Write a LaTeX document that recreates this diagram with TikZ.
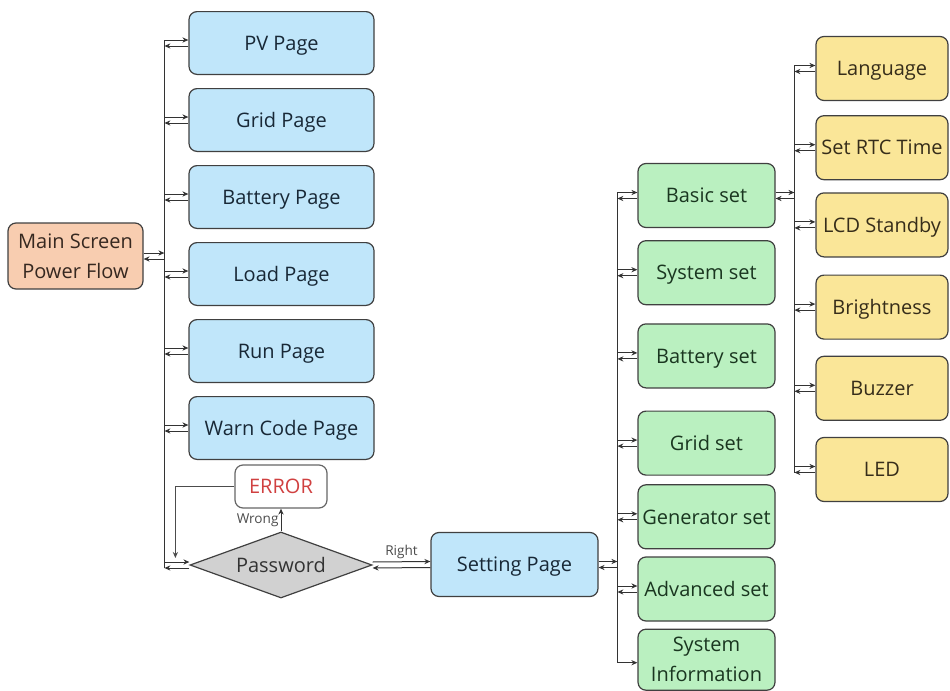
\documentclass[tikz,border=0pt]{standalone}
\usepackage{fontspec}
\setmainfont{Open Sans}
\usepackage{tikz}
\usetikzlibrary{arrows.meta, positioning, shapes.geometric, calc}
\usepackage{xcolor}
\definecolor{pagefill}{RGB}{192,230,250}
\definecolor{pagetext}{RGB}{24,40,54}
\definecolor{setfill}{RGB}{186,240,192}
\definecolor{settext}{RGB}{26,54,32}
\definecolor{subfill}{RGB}{250,230,152}
\definecolor{subtext}{RGB}{54,45,26}
\definecolor{mainfill}{RGB}{248,205,176}
\definecolor{maintext}{RGB}{54,40,32}
\definecolor{errred}{RGB}{208,64,64}

\begin{document}
\begin{tikzpicture}[
  node distance = 6.5pt and 12pt,
  box/.style  = {rectangle, rounded corners=4pt, draw=black!75, line width=0.6pt,
                 minimum height=32pt, inner sep=2pt, align=center,
                 font=\fontsize{10}{15}\selectfont},
  oneline/.style = {text height=7.2pt, text depth=0pt},
  page/.style = {box, oneline, fill=pagefill, text=pagetext, minimum width=92.5pt,
                 minimum height=31.4pt},
  setbox/.style = {box, oneline, fill=setfill, text=settext, minimum width=68.5pt},
  subbox/.style = {box, oneline, fill=subfill, text=subtext, minimum width=66pt},
  mainbox/.style = {box, fill=mainfill, text=maintext, minimum width=67.5pt,
                    minimum height=33pt},
  errbox/.style = {box, oneline, fill=white, draw=black!60, text=errred,
                   minimum width=46pt, minimum height=21.5pt},
  decision/.style = {diamond, aspect=2.75, draw=black!75, line width=0.6pt,
                     fill=black!18, text=black!80, inner sep=0pt, oneline,
                     minimum width=91pt, minimum height=33pt,
                     font=\fontsize{10}{12}\selectfont},
  arr/.style  = {-{Stealth[length=3pt,width=2.6pt]}, line width=0.5pt, draw=black!80},
  bus/.style  = {line width=0.5pt, draw=black!80},
  lbl/.style  = {font=\fontsize{6.8}{8}\selectfont, text=black!70, inner sep=1pt}
]
\useasboundingbox (0,0) rectangle (475pt,-345.5pt);

% main screen and pages
\node[mainbox] (main) at (37.75pt,-128pt) {Main Screen\\Power Flow};
\node[page] (pv) at (140.75pt,-21.5pt) {PV Page};
\node[page, below=of pv] (grid) {Grid Page};
\node[page, below=of grid] (batt) {Battery Page};
\node[page, below=of batt] (load) {Load Page};
\node[page, below=of load] (run) {Run Page};
\node[page, below=of run] (warn) {Warn Code Page};
\node[errbox] (err) at (140.5pt,-243.25pt) {ERROR};
\node[decision] (pw) at (140.5pt,-282.5pt) {Password};
\node[page, minimum width=83.5pt, minimum height=32pt] (setting)
  at (257.25pt,-282.25pt) {Setting Page};

% setting groups
\node[setbox] (basic) at (353.25pt,-97.75pt) {Basic set};
\node[setbox, below=6pt of basic] (sysset) {System set};
\node[setbox, below=9pt of sysset] (batset) {Battery set};
\node[setbox, below=11pt of batset] (gridset) {Grid set};
\node[setbox, below=4.25pt of gridset] (genset) {Generator set};
\node[setbox, below=3.5pt of genset] (advset) {Advanced set};
\node[setbox, below=3.5pt of advset, minimum height=30.5pt,
      text height={}, text depth={}] (sysinfo) {System\\Information};

% basic settings
\node[subbox] (lang) at (441pt,-34.25pt) {Language};
\node[subbox, below=7pt of lang] (rtc) {Set RTC Time};
\node[subbox, below=6pt of rtc] (lcd) {LCD Standby};
\node[subbox, below=8.5pt of lcd] (bright) {Brightness};
\node[subbox, below=8pt of bright] (buzz) {Buzzer};
\node[subbox, below=8pt of buzz] (led) {LED};

\coordinate (mbus) at ($(pv.west)+(-12pt,0)$);
\coordinate (gbus) at ($(basic.west)+(-10pt,0)$);
\coordinate (ybus) at ($(lang.west)+(-10.5pt,0)$);

% left bus
\draw[bus] ($(mbus|-pv)+(0,1.5pt)$) -- ($(mbus|-pw)-(0,1.5pt)$);
\draw[arr] ($(main.east)+(0,1.5pt)$) -- ($(mbus|-main)+(0,1.5pt)$);
\draw[arr] ($(mbus|-main)-(0,1.5pt)$) -- ($(main.east)-(0,1.5pt)$);
\draw[arr] ($(mbus|-pv)+(0,1.5pt)$) -- ($(pv.west)+(0,1.5pt)$);
\draw[arr] ($(pv.west)-(0,1.5pt)$) -- ($(mbus|-pv)-(0,1.5pt)$);
\draw[arr] ($(mbus|-grid)+(0,1.5pt)$) -- ($(grid.west)+(0,1.5pt)$);
\draw[arr] ($(grid.west)-(0,1.5pt)$) -- ($(mbus|-grid)-(0,1.5pt)$);
\draw[arr] ($(mbus|-batt)+(0,1.5pt)$) -- ($(batt.west)+(0,1.5pt)$);
\draw[arr] ($(batt.west)-(0,1.5pt)$) -- ($(mbus|-batt)-(0,1.5pt)$);
\draw[arr] ($(mbus|-load)+(0,1.5pt)$) -- ($(load.west)+(0,1.5pt)$);
\draw[arr] ($(load.west)-(0,1.5pt)$) -- ($(mbus|-load)-(0,1.5pt)$);
\draw[arr] ($(mbus|-run)+(0,1.5pt)$) -- ($(run.west)+(0,1.5pt)$);
\draw[arr] ($(run.west)-(0,1.5pt)$) -- ($(mbus|-run)-(0,1.5pt)$);
\draw[arr] ($(mbus|-warn)+(0,1.5pt)$) -- ($(warn.west)+(0,1.5pt)$);
\draw[arr] ($(warn.west)-(0,1.5pt)$) -- ($(mbus|-warn)-(0,1.5pt)$);
\draw[arr] ($(mbus|-pw)+(0,1.5pt)$) -- ($(pw.west)+(0,1.5pt)$);
\draw[arr] ($(pw.west)-(0,1.5pt)$) -- ($(mbus|-pw)-(0,1.5pt)$);

% password check
\coordinate (errend) at ($(mbus|-pw)+(5.5pt,3.5pt)$);
\draw[arr, draw=black!70] (err.west) -| (errend);
\draw[arr] (pw.north) -- node[lbl, left] {Wrong} (err.south);
\draw[arr] ($(pw.east)+(0,1.5pt)$) -- node[lbl, above] {Right} ($(setting.west)+(0,1.5pt)$);
\draw[arr] ($(setting.west)-(0,1.5pt)$) -- ($(pw.east)-(0,1.5pt)$);

% setting bus
\draw[bus] ($(gbus|-basic)+(0,1.5pt)$) -- ($(gbus|-sysinfo)-(0,1.5pt)$);
\draw[arr] ($(setting.east)+(0,1.5pt)$) -- ($(gbus|-setting)+(0,1.5pt)$);
\draw[arr] ($(gbus|-setting)-(0,1.5pt)$) -- ($(setting.east)-(0,1.5pt)$);
\draw[arr] ($(gbus|-basic)+(0,1.5pt)$) -- ($(basic.west)+(0,1.5pt)$);
\draw[arr] ($(basic.west)-(0,1.5pt)$) -- ($(gbus|-basic)-(0,1.5pt)$);
\draw[arr] ($(gbus|-sysset)+(0,1.5pt)$) -- ($(sysset.west)+(0,1.5pt)$);
\draw[arr] ($(sysset.west)-(0,1.5pt)$) -- ($(gbus|-sysset)-(0,1.5pt)$);
\draw[arr] ($(gbus|-batset)+(0,1.5pt)$) -- ($(batset.west)+(0,1.5pt)$);
\draw[arr] ($(batset.west)-(0,1.5pt)$) -- ($(gbus|-batset)-(0,1.5pt)$);
\draw[arr] ($(gbus|-gridset)+(0,1.5pt)$) -- ($(gridset.west)+(0,1.5pt)$);
\draw[arr] ($(gridset.west)-(0,1.5pt)$) -- ($(gbus|-gridset)-(0,1.5pt)$);
\draw[arr] ($(gbus|-genset)+(0,1.5pt)$) -- ($(genset.west)+(0,1.5pt)$);
\draw[arr] ($(genset.west)-(0,1.5pt)$) -- ($(gbus|-genset)-(0,1.5pt)$);
\draw[arr] ($(gbus|-advset)+(0,1.5pt)$) -- ($(advset.west)+(0,1.5pt)$);
\draw[arr] ($(advset.west)-(0,1.5pt)$) -- ($(gbus|-advset)-(0,1.5pt)$);
\draw[arr] ($(gbus|-sysinfo)-(0,1.5pt)$) -- ($(sysinfo.west)-(0,1.5pt)$);

% basic set bus
\draw[bus] ($(ybus|-lang)+(0,1.5pt)$) -- ($(ybus|-led)-(0,1.5pt)$);
\draw[arr] ($(basic.east)+(0,1.5pt)$) -- ($(ybus|-basic)+(0,1.5pt)$);
\draw[arr] ($(ybus|-basic)-(0,1.5pt)$) -- ($(basic.east)-(0,1.5pt)$);
\draw[arr] ($(ybus|-lang)+(0,1.5pt)$) -- ($(lang.west)+(0,1.5pt)$);
\draw[arr] ($(lang.west)-(0,1.5pt)$) -- ($(ybus|-lang)-(0,1.5pt)$);
\draw[arr] ($(ybus|-rtc)+(0,1.5pt)$) -- ($(rtc.west)+(0,1.5pt)$);
\draw[arr] ($(rtc.west)-(0,1.5pt)$) -- ($(ybus|-rtc)-(0,1.5pt)$);
\draw[arr] ($(ybus|-lcd)+(0,1.5pt)$) -- ($(lcd.west)+(0,1.5pt)$);
\draw[arr] ($(lcd.west)-(0,1.5pt)$) -- ($(ybus|-lcd)-(0,1.5pt)$);
\draw[arr] ($(ybus|-bright)+(0,1.5pt)$) -- ($(bright.west)+(0,1.5pt)$);
\draw[arr] ($(bright.west)-(0,1.5pt)$) -- ($(ybus|-bright)-(0,1.5pt)$);
\draw[arr] ($(ybus|-buzz)+(0,1.5pt)$) -- ($(buzz.west)+(0,1.5pt)$);
\draw[arr] ($(buzz.west)-(0,1.5pt)$) -- ($(ybus|-buzz)-(0,1.5pt)$);
\draw[arr] ($(ybus|-led)+(0,1.5pt)$) -- ($(led.west)+(0,1.5pt)$);
\draw[arr] ($(led.west)-(0,1.5pt)$) -- ($(ybus|-led)-(0,1.5pt)$);

\end{tikzpicture}
\end{document}
